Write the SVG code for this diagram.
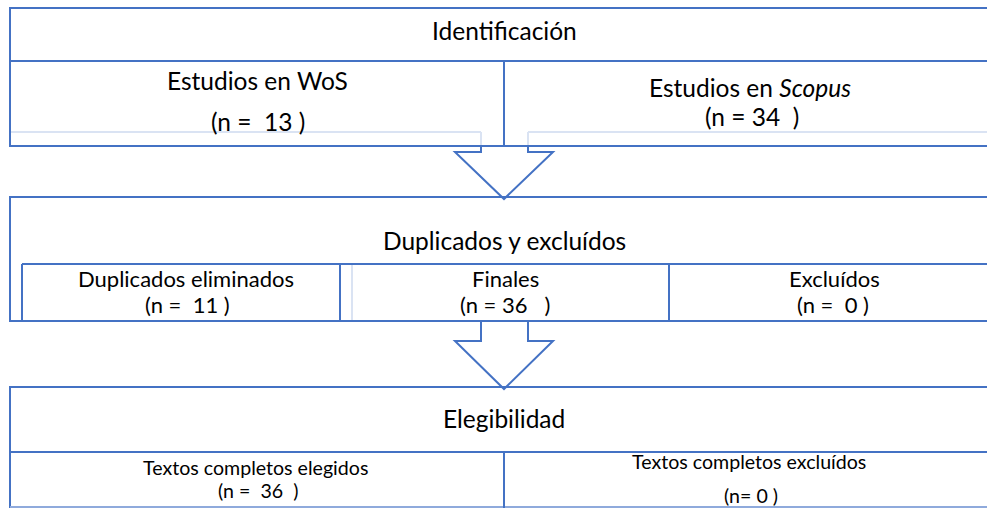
<svg xmlns="http://www.w3.org/2000/svg" width="987" height="508" viewBox="0 0 987 508">
<style>
.b{fill:none;stroke:#4472C4;stroke-width:2}
.f{fill:none;stroke:#DAE3F3;stroke-width:2}
.a{fill:none;stroke:#4472C4;stroke-width:2;stroke-linejoin:miter}
text{font-family:Lato,"Open Sans",sans-serif;fill:#000;white-space:pre}
.t1{font-size:24.5px}
.t2{font-size:22px}
.t3{font-size:19.6px}
</style>
<rect width="987" height="508" fill="#fff"/>
<g id="identificacion">
<rect class="b" x="10" y="8" width="990" height="138"/>
<line class="b" x1="10" y1="61" x2="987" y2="61"/>
<line class="b" x1="504" y1="61" x2="504" y2="146"/>
<line class="f" x1="11" y1="132" x2="481" y2="132"/>
<line class="f" x1="528" y1="132" x2="987" y2="132"/>
<line class="f" x1="481" y1="132" x2="481" y2="145"/>
<line class="f" x1="528" y1="132" x2="528" y2="145"/>
<text class="t1" x="432" y="40">Identificación</text>
</g>
<g id="wos">
<text class="t1" x="167" y="90">Estudios en WoS</text>
<text class="t1" x="211" y="131">(n =  13 )</text>
</g>
<g id="scopus">
<text class="t1" x="649" y="97">Estudios en <tspan font-style="italic">Scopus</tspan></text>
<text class="t1" x="705" y="126">(n = 34  )</text>
</g>
<g id="duplicados">
<rect class="b" x="10" y="197" width="990" height="124"/>
<line class="b" x1="22" y1="264" x2="987" y2="264"/>
<line class="b" x1="22" y1="264" x2="22" y2="321"/>
<line class="b" x1="340" y1="264" x2="340" y2="321"/>
<line class="f" x1="352" y1="265" x2="352" y2="320"/>
<line class="b" x1="669" y1="264" x2="669" y2="321"/>
<text class="t1" x="383" y="250">Duplicados y excluídos</text>
</g>
<g id="eliminados">
<text class="t2" x="78" y="287">Duplicados eliminados</text>
<text class="t2" x="145" y="313">(n =  11 )</text>
</g>
<g id="finales">
<text class="t2" x="472" y="287">Finales</text>
<text class="t2" x="460" y="313">(n = 36   )</text>
</g>
<g id="excluidos">
<text class="t2" x="789" y="287">Excluídos</text>
<text class="t2" x="797" y="313">(n =  0 )</text>
</g>
<g id="elegibilidad">
<rect class="b" x="10" y="387" width="990" height="140"/>
<line stroke="#8FAADC" stroke-width="2" x1="10" y1="507" x2="987" y2="507"/>
<line class="b" x1="10" y1="452" x2="987" y2="452"/>
<line class="b" x1="504" y1="452" x2="504" y2="508"/>
<text class="t1" x="443" y="428">Elegibilidad</text>
</g>
<g id="elegidos">
<text class="t3" x="143" y="475">Textos completos elegidos</text>
<text class="t3" x="218" y="498">(n =  36  )</text>
</g>
<g id="excluidos-texto">
<text class="t3" x="632" y="469">Textos completos excluídos</text>
<text class="t3" x="724" y="503">(n= 0 )</text>
</g>
<g id="connectors">
<polyline class="a" points="481,146 481,152 455,152 504,199 553,152 528,152 528,146"/>
<polyline class="a" points="481,322 481,341 455,341 504,389 553,341 528,341 528,322"/>
</g>
</svg>
